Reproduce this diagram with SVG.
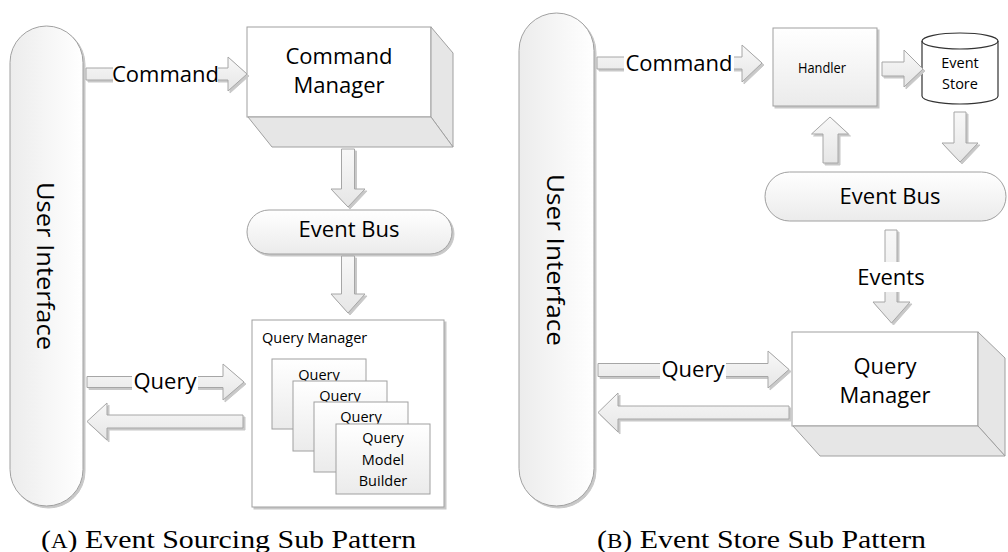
<svg xmlns="http://www.w3.org/2000/svg" width="1008" height="552" viewBox="0 0 1008 552">
<style>
.lbl{font-family:"Open Sans","Liberation Sans",sans-serif;fill:#000;}
.big{font-size:22px;}
.sm{font-size:14.5px;}
.xs{font-size:14.5px;}
.shape{stroke:#a0a0a0;stroke-width:1;}
.arr{fill:url(#ga);stroke:#a6a6a6;stroke-width:1;}
.side{fill:#e6e6e6;stroke:#a0a0a0;stroke-width:1;}
.cap{font-family:"Liberation Serif","Times New Roman",serif;font-size:26px;fill:#000;}
.bg{fill:#fff;}
</style>
<defs>
<linearGradient id="gh" x1="0" y1="0" x2="1" y2="0"><stop offset="0" stop-color="#ececec"/><stop offset="1" stop-color="#ffffff"/></linearGradient>
<linearGradient id="gv" x1="0" y1="0" x2="0" y2="1"><stop offset="0" stop-color="#ffffff"/><stop offset="1" stop-color="#ebebeb"/></linearGradient>
<linearGradient id="ga" x1="0" y1="0" x2="0" y2="1"><stop offset="0" stop-color="#f8f8f8"/><stop offset="1" stop-color="#e6e6e6"/></linearGradient>
<filter id="sh" x="-10%" y="-10%" width="130%" height="130%">
<feOffset in="SourceAlpha" dx="2" dy="2" result="o"/>
<feFlood flood-color="#c8c8c8"/>
<feComposite in2="o" operator="in" result="s"/>
<feMerge><feMergeNode in="s"/><feMergeNode in="SourceGraphic"/></feMerge>
</filter>
</defs>
<rect width="1008" height="552" fill="#fff"/>

<!-- ===== Panel A ===== -->
<g id="ui-a">
<rect x="10" y="26" width="73" height="480" rx="36.5" ry="36.5" class="shape" fill="url(#gh)" filter="url(#sh)"/>
<text class="lbl" font-size="23" transform="translate(37,266) rotate(90)" text-anchor="middle" textLength="168" lengthAdjust="spacingAndGlyphs">User Interface</text>
</g>
<g id="cmdmgr-a">
<rect x="247" y="27" width="184" height="90" fill="#fff" class="shape"/>
<polygon points="431,27 453,53 453,147 431,117" class="side"/>
<polygon points="248,117 431,117 453,147 272,147" class="side"/>
<text class="lbl big" x="339" y="64" text-anchor="middle">Command</text>
<text class="lbl big" x="339" y="93" text-anchor="middle">Manager</text>
</g>
<g id="eventbus-a">
<rect x="247" y="210" width="205" height="44" rx="22" ry="22" class="shape" fill="url(#gv)" filter="url(#sh)"/>
<text class="lbl big" x="349" y="237" text-anchor="middle">Event Bus</text>
</g>
<g id="qm-a">
<rect x="252" y="320" width="192" height="187" fill="#fff" class="shape" filter="url(#sh)"/>
<text class="lbl sm" x="262" y="343">Query Manager</text>
<rect x="272" y="359" width="94" height="70" fill="url(#gv)" class="shape"/>
<text class="lbl sm" x="319" y="380" text-anchor="middle">Query</text>
<rect x="293" y="381" width="94" height="70" fill="url(#gv)" class="shape"/>
<text class="lbl sm" x="340" y="401" text-anchor="middle">Query</text>
<rect x="314" y="402" width="94" height="70" fill="url(#gv)" class="shape"/>
<text class="lbl sm" x="361" y="422" text-anchor="middle">Query</text>
<rect x="336" y="424" width="94" height="70" fill="url(#gv)" class="shape"/>
<text class="lbl sm" x="383" y="443" text-anchor="middle">Query</text>
<text class="lbl sm" x="383" y="465" text-anchor="middle">Model</text>
<text class="lbl sm" x="383" y="486" text-anchor="middle">Builder</text>
</g>

<!-- ===== Panel B ===== -->
<g id="ui-b">
<rect x="519" y="13" width="75" height="493" rx="37.5" ry="37.5" class="shape" fill="url(#gh)" filter="url(#sh)"/>
<text class="lbl" font-size="23" transform="translate(547,260) rotate(90)" text-anchor="middle" textLength="172" lengthAdjust="spacingAndGlyphs">User Interface</text>
</g>
<g id="handler-b">
<rect x="773" y="28" width="104" height="78" class="shape" fill="url(#gv)" filter="url(#sh)"/>
<text class="lbl" font-size="14.5" x="822" y="73" text-anchor="middle" textLength="48" lengthAdjust="spacingAndGlyphs">Handler</text>
</g>
<g id="eventstore-b">
<path d="M922,41 A38,8 0 0 1 998,41 L998,96 A38,8 0 0 1 922,96 Z" fill="#fff" stroke="#333" stroke-width="1.2"/>
<path d="M922,41 A38,8 0 0 0 998,41" fill="none" stroke="#333" stroke-width="1.2"/>
<text class="lbl xs" x="960" y="68" text-anchor="middle">Event</text>
<text class="lbl xs" x="960" y="89" text-anchor="middle">Store</text>
</g>
<g id="eventbus-b">
<rect x="765" y="172" width="241" height="49" rx="24.5" ry="24.5" class="shape" fill="url(#gv)"/>
<text class="lbl big" x="890" y="204" text-anchor="middle">Event Bus</text>
</g>
<g id="qm-b">
<rect x="792" y="332" width="186" height="94" fill="#fff" class="shape"/>
<polygon points="978,332 1005,358 1005,456 978,426" class="side"/>
<polygon points="793,426 978,426 1005,456 820,456" class="side"/>
<text class="lbl big" x="885" y="374" text-anchor="middle">Query</text>
<text class="lbl big" x="885" y="403" text-anchor="middle">Manager</text>
</g>

<!-- ===== Connectors ===== -->
<g id="connectors">
<path class="arr" filter="url(#sh)" d="M86,68 L228,68 L228,57 L247,74 L228,91 L228,80 L86,80 Z"/>
<rect class="bg" x="113" y="62" width="105" height="24"/>
<text class="lbl big" x="165.5" y="82" text-anchor="middle">Command</text>
<path class="arr" filter="url(#sh)" d="M341.5,149 L354.5,149 L354.5,189 L365,189 L348,207 L331,189 L341.5,189 Z"/>
<path class="arr" filter="url(#sh)" d="M341.5,256 L354.5,256 L354.5,294 L365,294 L348,313 L331,294 L341.5,294 Z"/>
<path class="arr" filter="url(#sh)" d="M87,376.5 L223,376.5 L223,364 L244,382 L223,400 L223,387.5 L87,387.5 Z"/>
<rect class="bg" x="132" y="371" width="66" height="24"/>
<text class="lbl big" x="165" y="389" text-anchor="middle">Query</text>
<path class="arr" filter="url(#sh)" d="M87,421.5 L107,403 L107,415 L243,415 L243,428 L107,428 L107,440 Z"/>

<path class="arr" filter="url(#sh)" d="M597,57 L742,57 L742,45 L762,63 L742,82 L742,69 L597,69 Z"/>
<rect class="bg" x="624" y="51" width="110" height="24"/>
<text class="lbl big" x="679" y="71" text-anchor="middle">Command</text>
<path class="arr" filter="url(#sh)" d="M882,62 L904,62 L904,50 L923,69 L904,87 L904,76 L882,76 Z"/>
<path class="arr" filter="url(#sh)" d="M954,112 L966,112 L966,143 L978,143 L960,162 L942,143 L954,143 Z"/>
<path class="arr" filter="url(#sh)" d="M830,117 L848.5,134 L838,134 L838,163 L823,163 L823,134 L811.5,134 Z"/>
<path class="arr" filter="url(#sh)" d="M885,230 L897,230 L897,302 L910,302 L891.5,323 L873,302 L885,302 Z"/>
<rect class="bg" x="856" y="262" width="71" height="30"/>
<text class="lbl big" x="891" y="285" text-anchor="middle">Events</text>
<path class="arr" filter="url(#sh)" d="M598,363.5 L768,363.5 L768,351 L789,369.5 L768,388 L768,376.5 L598,376.5 Z"/>
<rect class="bg" x="660" y="357" width="66" height="25"/>
<text class="lbl big" x="693" y="377" text-anchor="middle">Query</text>
<path class="arr" filter="url(#sh)" d="M598,412.5 L618,393 L618,406 L789,406 L789,419 L618,419 L618,432 Z"/>
</g>

<!-- Captions -->
<text class="cap" transform="translate(41,548) scale(1.15,1)" xml:space="preserve">(<tspan font-size="20">A</tspan>) Event Sourcing Sub Pattern</text>
<text class="cap" transform="translate(597,548) scale(1.15,1)" xml:space="preserve">(<tspan font-size="20">B</tspan>) Event Store Sub Pattern</text>
</svg>
